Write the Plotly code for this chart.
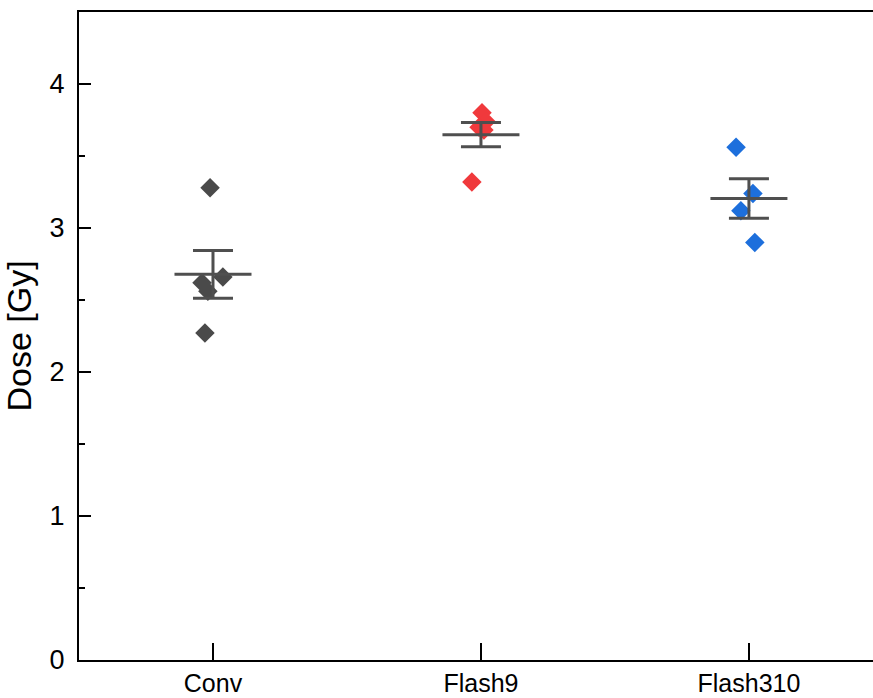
import numpy as np
import plotly.graph_objects as go

# Groups and measured doses (Gy)
groups = ["Conv", "Flash9", "Flash310"]
conv_dose = [3.28, 2.62, 2.66, 2.56, 2.27]
flash9_dose = [3.80, 3.74, 3.70, 3.68, 3.32]
flash310_dose = [3.56, 3.24, 3.12, 2.90]

# Horizontal scatter of each point around its group centre (category units)
conv_jitter = [-0.011, -0.041, 0.037, -0.019, -0.030]
flash9_jitter = [0.004, 0.019, -0.007, 0.011, -0.034]
flash310_jitter = [-0.048, 0.015, -0.030, 0.022]

colors = ["#4a4a4a", "#f0393c", "#1d6fdc"]
bar_color = "#4f4f4f"

datasets = [conv_dose, flash9_dose, flash310_dose]
jitters = [conv_jitter, flash9_jitter, flash310_jitter]

fig = go.Figure()

for i, (vals, jit, col) in enumerate(zip(datasets, jitters, colors)):
    fig.add_trace(go.Scatter(
        x=[i + j for j in jit], y=vals, mode="markers",
        marker=dict(symbol="diamond", size=15, color=col, line=dict(width=0)),
        showlegend=False, hoverinfo="y",
    ))

# Mean with standard error of the mean
means = [float(np.mean(v)) for v in datasets]
sems = [float(np.std(v, ddof=1) / np.sqrt(len(v))) for v in datasets]
fig.add_trace(go.Scatter(
    x=list(range(len(groups))), y=means, mode="markers",
    marker=dict(symbol="line-ew", size=55, color=bar_color,
                line=dict(width=3, color=bar_color)),
    error_y=dict(type="data", array=sems, visible=True, color=bar_color,
                 thickness=3, width=20),
    showlegend=False, hoverinfo="y",
))

font_family = "Liberation Sans, Arial, sans-serif"
axis_font = dict(family=font_family, size=27, color="#000000")
xtick_font = dict(family=font_family, size=25, color="#000000")

fig.update_layout(
    width=873, height=698,
    margin=dict(l=79, r=0, t=12, b=38),
    paper_bgcolor="white", plot_bgcolor="white",
    font=axis_font,
    xaxis=dict(
        range=[-0.5, 2.463], tickvals=list(range(len(groups))), ticktext=groups,
        showgrid=False, zeroline=False, showline=True, linecolor="black",
        linewidth=2, mirror=True, ticks="inside", ticklen=17, tickwidth=2,
        tickcolor="black", tickfont=xtick_font, ticklabelstandoff=0,
        automargin=False,
    ),
    yaxis=dict(
        range=[0, 4.5], tickvals=[0, 1, 2, 3, 4],
        showgrid=False, zeroline=False, showline=True, linecolor="black",
        linewidth=2, mirror=False, ticks="inside", ticklen=12, tickwidth=2,
        tickcolor="black", tickfont=axis_font, ticklabelstandoff=7,
        automargin=False,
        minor=dict(tickvals=[0.5, 1.5, 2.5, 3.5], ticks="inside", ticklen=6,
                   tickwidth=2, tickcolor="black", showgrid=False),
        title=dict(text="Dose [Gy]", font=dict(family=font_family, size=34,
                                              color="#000000"), standoff=8),
    ),
)

fig.write_html("out.html")
